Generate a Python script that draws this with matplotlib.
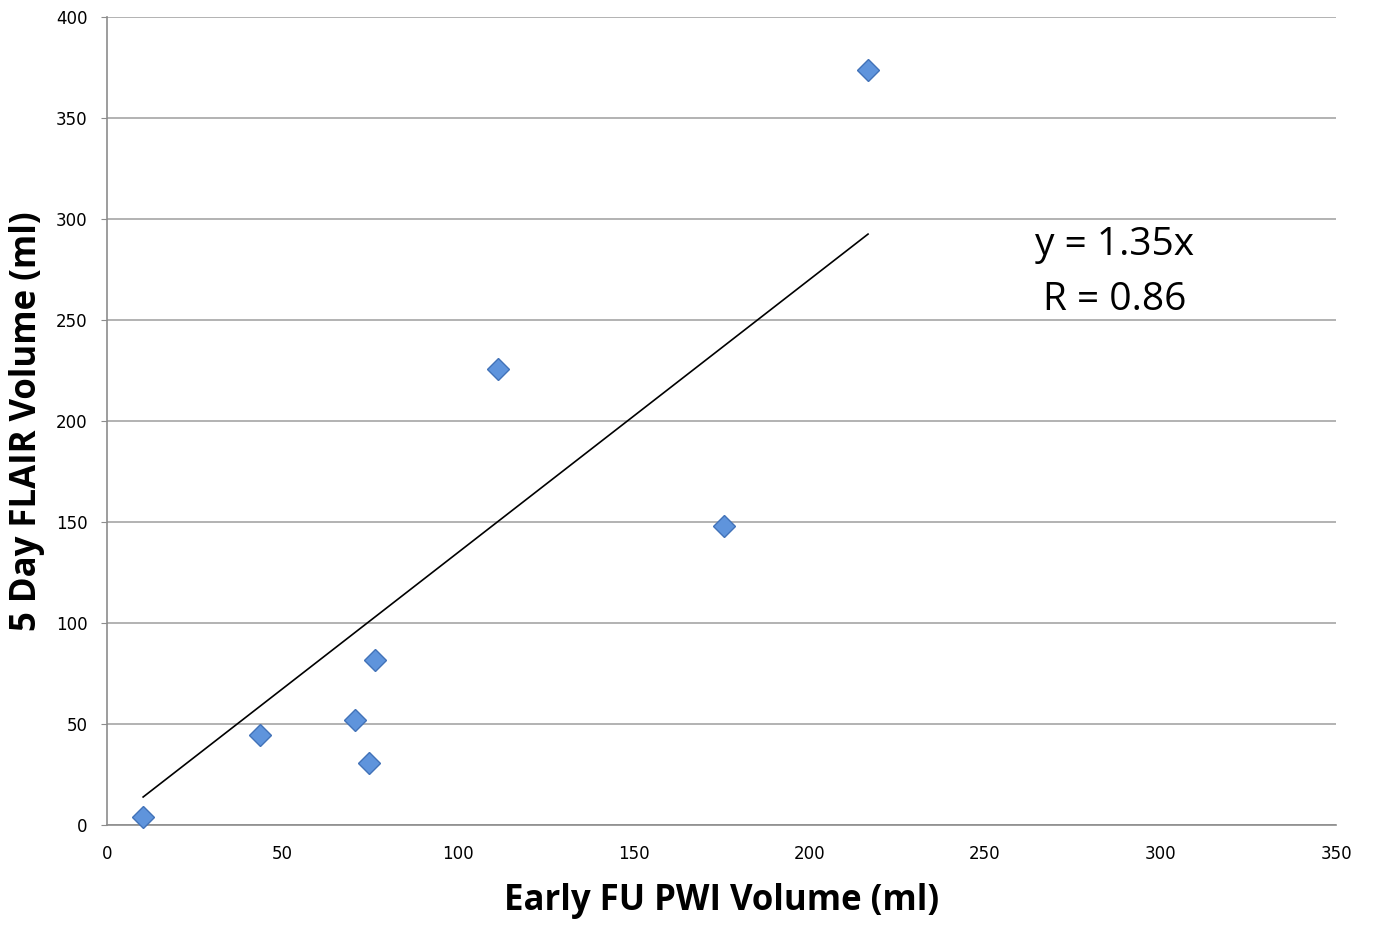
import matplotlib.pyplot as plt
import numpy as np

# valores
pwi_vol = [10.3, 43.6, 70.6, 74.6, 76.3, 111.4, 175.7, 216.7]
flair_vol = [4, 44.6, 52, 30.7, 81.7, 225.7, 148, 374]
pendiente = 1.35
x_ticks = [0, 50, 100, 150, 200, 250, 300, 350]
y_ticks = [0, 50, 100, 150, 200, 250, 300, 350, 400]

fig = plt.figure(figsize=(13.73, 9.25), dpi=100)
ax = fig.add_axes([0.0779, 0.108, 0.8953, 0.8736])

ax.set_xlim(0, 350)
ax.set_ylim(0, 400)
ax.set_xticks(x_ticks)
ax.set_yticks(y_ticks)
ax.grid(axis="y", color="#a6a6a6", linewidth=1.2)
ax.set_axisbelow(True)

for lado in ["top", "right"]:
    ax.spines[lado].set_visible(False)
for lado in ["left", "bottom"]:
    ax.spines[lado].set_color("#8c8c8c")
    ax.spines[lado].set_linewidth(1.2)
ax.tick_params(axis="both", colors="#8c8c8c", length=4, labelcolor="black",
               labelsize=12)
ax.tick_params(axis="x", length=0, pad=14)
ax.tick_params(axis="y", pad=10)
for lbl in ax.get_xticklabels() + ax.get_yticklabels():
    lbl.set_family("DejaVu Sans")

# linea de tendencia
x_linea = np.array([min(pwi_vol), max(pwi_vol)])
ax.plot(x_linea, pendiente * x_linea, color="black", linewidth=1.2, zorder=2)

ax.plot(pwi_vol, flair_vol, linestyle="none", marker="D", markersize=11,
        markerfacecolor="#5f94dc", markeredgecolor="#4272b8",
        markeredgewidth=1, zorder=3, clip_on=False)

ax.text(287, 287, "y = 1.35x", fontsize=28, family="Open Sans",
        ha="center", va="center")
ax.text(287, 260, "R = 0.86", fontsize=28, family="Open Sans",
        ha="center", va="center")

ax.set_xlabel("Early FU PWI Volume (ml)", fontsize=25, fontweight="bold",
              family="Open Sans", labelpad=15)
ax.set_ylabel("5 Day FLAIR Volume (ml)", fontsize=25, fontweight="bold",
              family="Open Sans")
ax.yaxis.set_label_coords(-0.05, 0.5)

fig.savefig("out.png", dpi=100)
